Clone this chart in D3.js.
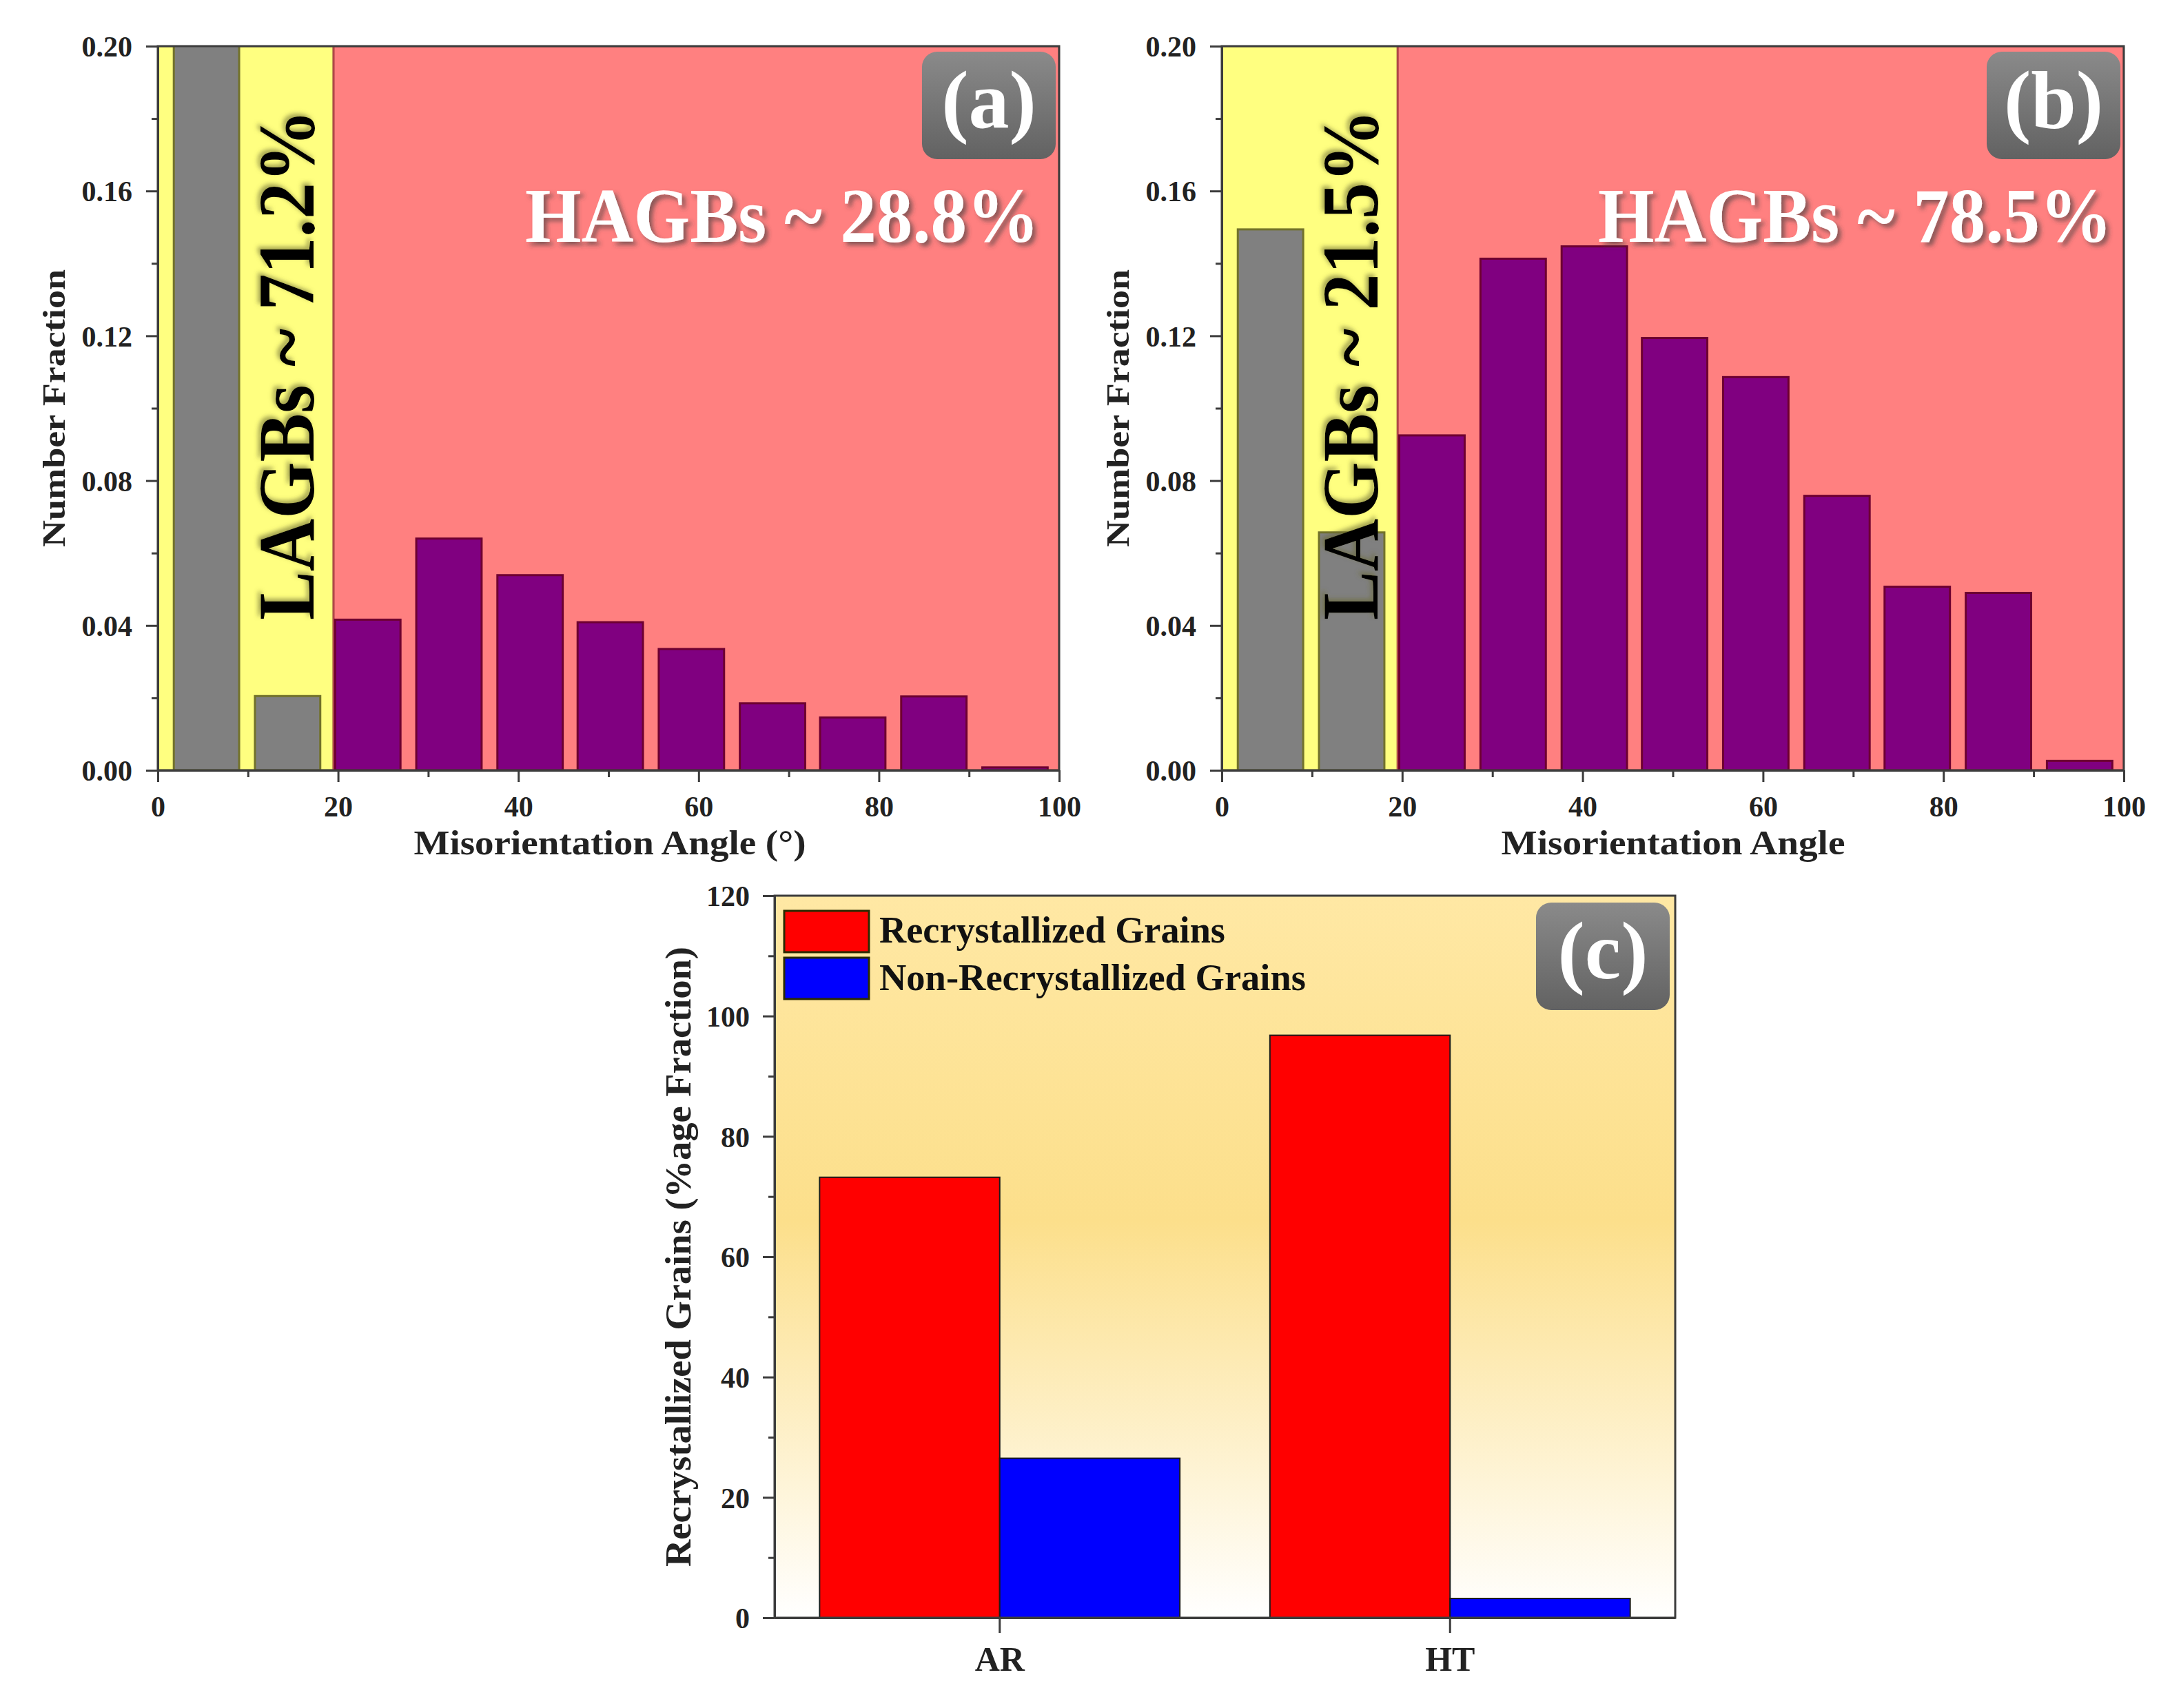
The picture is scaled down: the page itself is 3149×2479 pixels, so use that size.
<!DOCTYPE html>
<html>
<head>
<meta charset="utf-8">
<script src="https://cdn.jsdelivr.net/npm/d3@7"></script>
<style>
  body { margin: 0; background: #ffffff; }
  text { font-family: "Liberation Serif", "Times New Roman", serif; font-weight: bold; }
</style>
</head>
<body>
<div id="chart"></div>
<script>
// misorientation histogram data (bin centres in degrees)
var binCenters = [5.4, 14.4, 23.3, 32.3, 41.3, 50.2, 59.2, 68.2, 77.1, 86.1, 95.1];
var fractionAR = [0.6913, 0.0205, 0.0416, 0.0640, 0.0539, 0.0409, 0.0335, 0.0185, 0.0146, 0.0204, 0.0008];
var fractionHT = [0.1494, 0.0657, 0.0925, 0.1413, 0.1447, 0.1194, 0.1086, 0.0758, 0.0507, 0.0490, 0.0026];
var lagbLimit = 19.5;
var fractionTicks = [0, 0.04, 0.08, 0.12, 0.16, 0.20];
var angleTicks = [0, 20, 40, 60, 80, 100];

// recrystallization data
var conditions = ["AR", "HT"];
var seriesNames = ["Recrystallized Grains", "Non-Recrystallized Grains"];
var recrystallized = [73.2, 96.8];
var nonRecrystallized = [26.5, 3.2];
var percentTicks = [0, 20, 40, 60, 80, 100, 120];

var W = 3149, H = 2479;

var svg = d3.select("#chart").append("svg")
    .attr("width", W)
    .attr("height", H);

var defs = svg.append("defs");

// shadow for the white labels
var sh = defs.append("filter").attr("id", "whiteShadow")
    .attr("x", "-10%").attr("y", "-20%").attr("width", "130%").attr("height", "160%");
sh.append("feDropShadow").attr("dx", 5).attr("dy", 5).attr("stdDeviation", 3)
    .attr("flood-color", "#3a3a3a").attr("flood-opacity", 0.6);

var sh2 = defs.append("filter").attr("id", "darkShadow")
    .attr("x", "-20%").attr("y", "-10%").attr("width", "160%").attr("height", "130%");
sh2.append("feDropShadow").attr("dx", 4).attr("dy", -4).attr("stdDeviation", 3)
    .attr("flood-color", "#6b6b30").attr("flood-opacity", 0.6);

// grey gradient for the (a)(b)(c) tags
var tagGrad = defs.append("linearGradient").attr("id", "tagGrad")
    .attr("x1", 0).attr("y1", 0).attr("x2", 0).attr("y2", 1);
tagGrad.append("stop").attr("offset", "0%").attr("stop-color", "#8a8a8a");
tagGrad.append("stop").attr("offset", "100%").attr("stop-color", "#626262");

// background gradient for panel (c)
var bgGrad = defs.append("linearGradient").attr("id", "bgGrad")
    .attr("x1", 0).attr("y1", 0).attr("x2", 0).attr("y2", 1);
bgGrad.append("stop").attr("offset", "0%").attr("stop-color", "#FFE8A4");
bgGrad.append("stop").attr("offset", "45%").attr("stop-color", "#FCDF8B");
bgGrad.append("stop").attr("offset", "100%").attr("stop-color", "#FFFFFF");

// draws the panel tag like "(a)"
function drawTag(g, right, top, label) {
    var tw = 194, th = 156;
    g.append("rect")
        .attr("x", right - 5 - tw).attr("y", top + 8)
        .attr("width", tw).attr("height", th)
        .attr("rx", 22).attr("ry", 22)
        .attr("fill", "url(#tagGrad)");
    g.append("text")
        .attr("x", right - 5 - tw / 2).attr("y", top + 8 + th / 2 + 32)
        .attr("text-anchor", "middle")
        .attr("font-size", 118)
        .attr("fill", "#ffffff")
        .text(label);
}

function styleAxis(a) {
    a.select(".domain").attr("stroke", "#3c3c3c").attr("stroke-width", 3);
    a.selectAll(".tick line").attr("stroke", "#3c3c3c").attr("stroke-width", 3);
    a.selectAll("text").attr("font-family", "Liberation Serif, Times New Roman, serif").attr("font-weight", "bold");
}

// histogram panel (a) or (b)
function drawHistogram(cfg, values) {
    var g = svg.append("g");
    var x = d3.scaleLinear().domain([0, 100]).range([cfg.left, cfg.left + cfg.width]);
    var y = d3.scaleLinear().domain([0, 0.20]).range([cfg.top + cfg.height, cfg.top]);

    var clipId = "clip" + cfg.id;
    defs.append("clipPath").attr("id", clipId)
        .append("rect")
        .attr("x", cfg.left).attr("y", cfg.top)
        .attr("width", cfg.width).attr("height", cfg.height);

    var plot = g.append("g").attr("clip-path", "url(#" + clipId + ")");

    // LAGB / HAGB background bands
    plot.append("rect")
        .attr("x", x(0)).attr("y", y(0.20))
        .attr("width", x(lagbLimit) - x(0)).attr("height", y(0) - y(0.20))
        .attr("fill", "#FFFF80").attr("stroke", "#a3a34a").attr("stroke-width", 3);
    plot.append("rect")
        .attr("x", x(lagbLimit)).attr("y", y(0.20))
        .attr("width", x(100) - x(lagbLimit)).attr("height", y(0) - y(0.20))
        .attr("fill", "#FF8080").attr("stroke", "#b04848").attr("stroke-width", 3);

    // bars
    var barW = 7.25;
    plot.selectAll("rect.bar")
        .data(values)
        .enter()
        .append("rect")
        .attr("class", "bar")
        .attr("x", function (d, i) { return x(binCenters[i] - barW / 2); })
        .attr("width", function (d, i) { return x(binCenters[i] + barW / 2) - x(binCenters[i] - barW / 2); })
        .attr("y", function (d) { return y(d); })
        .attr("height", function (d) { return y(0) - y(d); })
        .attr("fill", function (d, i) { return binCenters[i] < lagbLimit ? "#808080" : "#800080"; })
        .attr("stroke", function (d, i) { return binCenters[i] < lagbLimit ? "#72722a" : "#6e0030"; })
        .attr("stroke-width", 3);

    // LAGBs rotated text
    g.append("text")
        .attr("transform", "translate(" + (cfg.left + 226) + "," + (cfg.top + 833) + ") rotate(-90)")
        .attr("font-size", 116)
        .attr("fill", "#000000")
        .attr("textLength", 741)
        .attr("lengthAdjust", "spacingAndGlyphs")
        .attr("filter", "url(#darkShadow)")
        .text(cfg.lagbText);

    // HAGBs text
    g.append("text")
        .attr("x", cfg.hagbRight).attr("y", cfg.top + 284)
        .attr("text-anchor", "end")
        .attr("font-size", 113)
        .attr("fill", "#ffffff")
        .attr("textLength", 746)
        .attr("lengthAdjust", "spacingAndGlyphs")
        .attr("filter", "url(#whiteShadow)")
        .text(cfg.hagbText);

    drawTag(g, cfg.left + cfg.width, cfg.top, cfg.tag);

    // frame
    g.append("rect")
        .attr("x", cfg.left).attr("y", cfg.top)
        .attr("width", cfg.width).attr("height", cfg.height)
        .attr("fill", "none").attr("stroke", "#3c3c3c").attr("stroke-width", 3);

    // y axis
    var yAxis = g.append("g")
        .attr("transform", "translate(" + cfg.left + ",0)")
        .call(d3.axisLeft(y).tickValues(fractionTicks).tickSize(17).tickSizeOuter(0).tickFormat(d3.format(".2f")));
    var yMinor = g.append("g")
        .attr("transform", "translate(" + cfg.left + ",0)")
        .call(d3.axisLeft(y).tickValues(d3.range(0.02, 0.2, 0.04)).tickSize(9).tickSizeOuter(0).tickFormat(""));
    yAxis.selectAll("text")
        .attr("x", -37).attr("dy", "0.35em")
        .attr("font-size", 42).attr("fill", "#222");

    // x axis
    var xAxis = g.append("g")
        .attr("transform", "translate(0," + (cfg.top + cfg.height) + ")")
        .call(d3.axisBottom(x).tickValues(angleTicks).tickSize(17).tickSizeOuter(0));
    var xMinor = g.append("g")
        .attr("transform", "translate(0," + (cfg.top + cfg.height) + ")")
        .call(d3.axisBottom(x).tickValues([10, 30, 50, 70, 90]).tickSize(10).tickSizeOuter(0).tickFormat(""));
    xAxis.selectAll("text")
        .attr("y", 67).attr("dy", null)
        .attr("font-size", 42).attr("fill", "#222");

    [yAxis, yMinor, xAxis, xMinor].forEach(styleAxis);

    // axis titles
    g.append("text")
        .attr("transform", "translate(" + (cfg.left - 135) + "," + (cfg.top + cfg.height / 2) + ") rotate(-90)")
        .attr("text-anchor", "middle")
        .attr("font-size", 46)
        .attr("fill", "#222")
        .attr("textLength", 403)
        .attr("lengthAdjust", "spacingAndGlyphs")
        .text("Number Fraction");
    g.append("text")
        .attr("x", cfg.titleX).attr("y", cfg.top + cfg.height + 122)
        .attr("text-anchor", "middle")
        .attr("font-size", 50)
        .attr("fill", "#222")
        .attr("textLength", cfg.titleLen)
        .attr("lengthAdjust", "spacingAndGlyphs")
        .text(cfg.xTitle);
}

drawHistogram({
    left: 229, top: 67, width: 1308, height: 1051, tag: "(a)", id: "A",
    lagbText: "LAGBs ~ 71.2%", hagbText: "HAGBs ~ 28.8%", hagbRight: 1508,
    xTitle: "Misorientation Angle (°)", titleX: 885, titleLen: 569
}, fractionAR);

drawHistogram({
    left: 1773, top: 67, width: 1309, height: 1051, tag: "(b)", id: "B",
    lagbText: "LAGBs ~ 21.5%", hagbText: "HAGBs ~ 78.5%", hagbRight: 3065,
    xTitle: "Misorientation Angle", titleX: 2428, titleLen: 499
}, fractionHT);

// panel (c) grouped bar chart
function drawGrains() {
    var c = { left: 1124, top: 1300, width: 1307, height: 1048 };
    var g = svg.append("g");

    var x0 = d3.scaleBand().domain(conditions).range([c.left, c.left + c.width]).padding(0);
    var x1 = d3.scaleBand().domain(seriesNames).range([0, x0.bandwidth()])
        .paddingInner(0).paddingOuter(0.25);
    var y = d3.scaleLinear().domain([0, 120]).range([c.top + c.height, c.top]);
    var color = d3.scaleOrdinal().domain(seriesNames).range(["#FF0000", "#0000FF"]);

    g.append("rect")
        .attr("x", c.left).attr("y", c.top)
        .attr("width", c.width).attr("height", c.height)
        .attr("fill", "url(#bgGrad)");

    var rows = conditions.map(function (cond, i) {
        return [
            { cond: cond, key: seriesNames[0], value: recrystallized[i] },
            { cond: cond, key: seriesNames[1], value: nonRecrystallized[i] }
        ];
    });

    g.selectAll("g.group")
        .data(rows)
        .enter()
        .append("g")
        .attr("class", "group")
        .selectAll("rect")
        .data(function (d) { return d; })
        .enter()
        .append("rect")
        .attr("x", function (d) { return x0(d.cond) + x1(d.key); })
        .attr("width", x1.bandwidth())
        .attr("y", function (d) { return y(d.value); })
        .attr("height", function (d) { return y(0) - y(d.value); })
        .attr("fill", function (d) { return color(d.key); })
        .attr("stroke", "#1a1a1a")
        .attr("stroke-width", 2);

    // legend
    var legend = g.append("g");
    seriesNames.forEach(function (name, i) {
        legend.append("rect")
            .attr("x", c.left + 14).attr("y", c.top + 22 + i * 68)
            .attr("width", 123).attr("height", 60)
            .attr("fill", color(name))
            .attr("stroke", "#2a2a00").attr("stroke-width", 3);
        legend.append("text")
            .attr("x", c.left + 152).attr("y", c.top + 68 + i * 69)
            .attr("font-size", 54)
            .attr("fill", "#111")
            .attr("textLength", i == 0 ? 502 : 619)
            .attr("lengthAdjust", "spacingAndGlyphs")
            .text(name);
    });

    drawTag(g, c.left + c.width - 3, c.top + 2, "(c)");

    g.append("rect")
        .attr("x", c.left).attr("y", c.top)
        .attr("width", c.width).attr("height", c.height)
        .attr("fill", "none").attr("stroke", "#3c3c3c").attr("stroke-width", 3);

    var yAxis = g.append("g")
        .attr("transform", "translate(" + c.left + ",0)")
        .call(d3.axisLeft(y).tickValues(percentTicks).tickSize(17).tickSizeOuter(0));
    var yMinor = g.append("g")
        .attr("transform", "translate(" + c.left + ",0)")
        .call(d3.axisLeft(y).tickValues(d3.range(10, 120, 20)).tickSize(9).tickSizeOuter(0).tickFormat(""));
    yAxis.selectAll("text")
        .attr("x", -36).attr("dy", "0.35em")
        .attr("font-size", 42).attr("fill", "#222");

    var xAxis = g.append("g")
        .attr("transform", "translate(0," + (c.top + c.height) + ")")
        .call(d3.axisBottom(x0).tickSize(22).tickSizeOuter(0));
    xAxis.selectAll("text")
        .attr("y", 77).attr("dy", null)
        .attr("font-size", 50).attr("fill", "#222");

    [yAxis, yMinor, xAxis].forEach(styleAxis);

    g.append("text")
        .attr("transform", "translate(" + (c.left - 122) + "," + (c.top + c.height / 2) + ") rotate(-90)")
        .attr("text-anchor", "middle")
        .attr("font-size", 52)
        .attr("fill", "#222")
        .attr("textLength", 900)
        .attr("lengthAdjust", "spacingAndGlyphs")
        .text("Recrystallized Grains (%age Fraction)");
}

drawGrains();
</script>
</body>
</html>
